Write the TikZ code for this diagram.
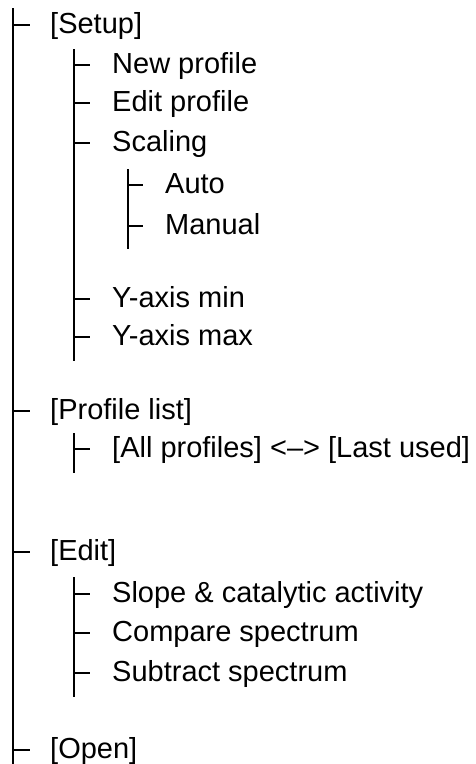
\documentclass[tikz,border=0pt]{standalone}
\usepackage{fontspec}
\setmainfont{Liberation Sans}
\begin{document}
\begin{tikzpicture}[x=1pt,y=-1pt,
  spine/.style={line width=2.3pt},
  thinspine/.style={line width=1.4pt},
  tickline/.style={line width=2pt},
  thintick/.style={line width=1.8pt},
  lbl/.style={anchor=base west, inner sep=0pt, font=\fontsize{29}{34}\selectfont}]
\useasboundingbox (0,0) rectangle (476,764);

% level 0 labels
\node[lbl] (setup) at (50,33) {[Setup]};
\node[lbl] (plist) at (50,419) {[Profile list]};
\node[lbl] (edit) at (50,560) {[Edit]};
\node[lbl] (open) at (50,758) {[Open]};

% level 1 labels
\node[lbl] (newp) at (112,73) {New profile};
\node[lbl] (editp) at (112,111) {Edit profile};
\node[lbl] (scal) at (112,151) {Scaling};
\node[lbl] (ymin) at (112,307) {Y-axis min};
\node[lbl] (ymax) at (112,345) {Y-axis max};
\node[lbl] (allp) at (112,457) {[All profiles] <–> [Last used]};
\node[lbl] (slope) at (112,602) {Slope \& catalytic activity};
\node[lbl] (comp) at (112,641) {Compare spectrum};
\node[lbl] (subt) at (112,681) {Subtract spectrum};

% level 2 labels
\node[lbl] (auto) at (165,193) {Auto};
\node[lbl] (manu) at (165,234) {Manual};

% spines
\coordinate (s0a) at (13,8);
\coordinate (s0b) at (13,764);
\draw[spine] (s0a) -- (s0b);

\coordinate (s1a) at (74,49);
\coordinate (s1b) at (74,361);
\draw[spine] (s1a) -- (s1b);

\coordinate (s2a) at (74,433);
\coordinate (s2b) at (74,473);
\draw[spine] (s2a) -- (s2b);

\coordinate (s3a) at (74,577);
\coordinate (s3b) at (74,697);
\draw[spine] (s3a) -- (s3b);

\coordinate (s4a) at (128,169);
\coordinate (s4b) at (128,249);
\draw[thinspine] (s4a) -- (s4b);

% ticks level 0
\foreach \n in {setup,plist,edit,open}
  \draw[tickline] (\n.base west) ++(-37,-8) -- ++(17,0);
% ticks level 1
\foreach \n in {newp,editp,scal,ymin,ymax,allp,slope,comp,subt}
  \draw[tickline] (\n.base west) ++(-38,-8) -- ++(16,0);
% ticks level 2
\foreach \n in {auto,manu}
  \draw[thintick] (\n.base west) ++(-37,-8) -- ++(15,0);
\end{tikzpicture}
\end{document}
